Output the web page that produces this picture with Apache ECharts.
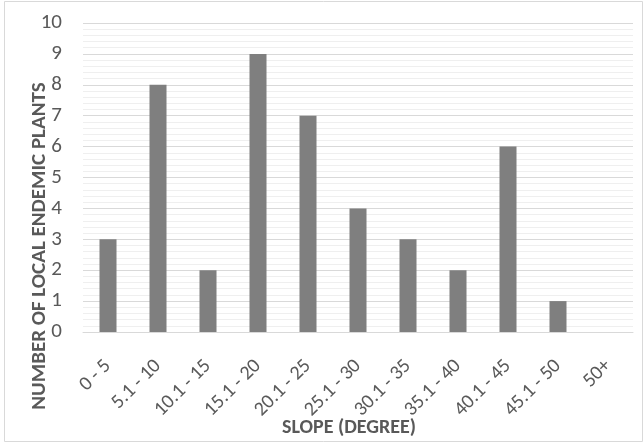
<!DOCTYPE html>
<html><head><meta charset="utf-8">
<script src="https://cdn.jsdelivr.net/npm/echarts@6/dist/echarts.min.js"></script>
<style>html,body{margin:0;padding:0;background:#fff}#c{width:644px;height:443px}</style>
</head><body><div id="c"></div>
<script>
const categories = ['0 - 5','5.1 - 10','10.1 - 15','15.1 - 20','20.1 - 25','25.1 - 30','30.1 - 35','35.1 - 40','40.1 - 45','45.1 - 50','50+'];
const values = [3,8,2,9,7,4,3,2,6,1,0];
const yTicks = [0,1,2,3,4,5,6,7,8,9,10];
const FONT = 'Carlito, Lato, sans-serif';
const chart = echarts.init(document.getElementById('c'));
chart.setOption({
  animation:false,
  backgroundColor:'#fff',
  graphic:[
    {type:'rect',shape:{x:4.5,y:1.5,width:638,height:440},style:{fill:'none',stroke:'#d9d9d9',lineWidth:1}},
    {type:'text',x:40,y:246,rotation:Math.PI/2,style:{text:'NUMBER OF LOCAL ENDEMIC PLANTS',font:'bold 21px '+FONT,fill:'#595959',align:'center',verticalAlign:'middle'}}
  ],
  grid:{left:83,right:11,top:23,bottom:111,containLabel:false,outerBoundsMode:'none'},
  xAxis:{type:'category',data:categories,
    axisLine:{lineStyle:{color:'#d9d9d9',width:1}},axisTick:{show:false},
    axisLabel:{rotate:45,interval:0,color:'#595959',fontSize:20,fontFamily:FONT,margin:31},
    name:'SLOPE (DEGREE)',nameLocation:'middle',nameGap:86,nameMoveOverlap:false,
    nameTextStyle:{color:'#595959',fontSize:20,fontWeight:'bold',fontFamily:FONT,padding:[0,18,0,0]}},
  yAxis:{type:'value',min:yTicks[0],max:yTicks[yTicks.length-1],interval:1,
    axisLine:{show:false},axisTick:{show:false},
    axisLabel:{color:'#595959',fontSize:21,fontFamily:FONT,margin:21},
    splitLine:{lineStyle:{color:'#d9d9d9',width:1}},
    minorTick:{show:false,splitNumber:5},
    minorSplitLine:{show:true,lineStyle:{color:'#efefef',width:1}}},
  series:[{type:'bar',data:values,barWidth:17,itemStyle:{color:'#7f7f7f'}}]
});
</script></body></html>
